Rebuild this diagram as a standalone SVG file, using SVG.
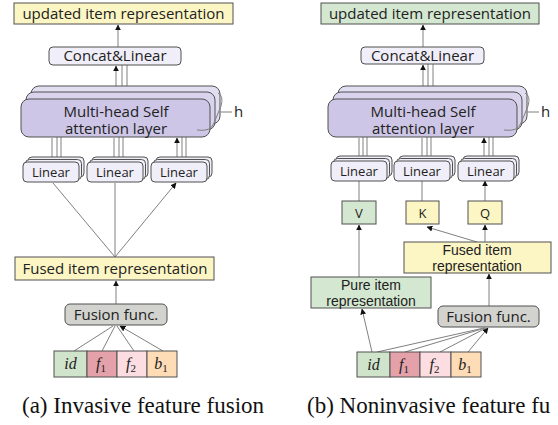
<svg xmlns="http://www.w3.org/2000/svg" xmlns:xlink="http://www.w3.org/1999/xlink" width="558" height="425" viewBox="0 0 558 425">
<style>
.lbl{font-family:"Open Sans","Noto Sans",sans-serif;font-size:15px;fill:#222;text-anchor:middle}
.sm{font-size:13px}
.two{font-family:"Liberation Sans",Arial,sans-serif;font-size:14px}
.math{font-family:"Liberation Serif",serif;font-style:italic;font-size:16px;fill:#222;text-anchor:middle}
.sub{font-size:11px;font-style:normal}
.cap{font-family:"Liberation Serif","Times New Roman",serif;font-size:23px;fill:#111}
.box{stroke:#505050;stroke-width:1}
.yel{fill:#fcf6c4}
.grn{fill:#d4e7d0}
.lav{fill:#f0eef8}
.gry{fill:#d2d2ce}
.c{stroke:#808080;stroke-width:1;fill:none}
.a{marker-end:url(#ah)}
</style>
<defs>
<marker id="ah" viewBox="0 0 10 10" refX="9" refY="5" markerWidth="6" markerHeight="6" orient="auto" markerUnits="userSpaceOnUse">
<path d="M0,0 L10,5 L0,10 z" fill="#111"/>
</marker>
<g id="linstack">
<rect x="5" y="-5" width="56" height="20" rx="4" class="box lav"/>
<rect x="2.5" y="-2.5" width="56" height="20" rx="4" class="box lav"/>
<rect x="0" y="0" width="56" height="20" rx="4" class="box lav"/>
<text x="28" y="15" class="lbl sm">Linear</text>
</g>
<g id="mhstack">
<rect x="10" y="-13" width="189" height="38" rx="8" class="box" fill="#e2def2"/>
<rect x="5" y="-7" width="189" height="38" rx="8" class="box" fill="#d9d3ee"/>
<rect x="0" y="0" width="189" height="38" rx="8" class="box" fill="#cdc6e6"/>
<text x="95" y="18" class="lbl">Multi-head Self</text>
<text x="95" y="35" class="lbl">attention layer</text>
<path d="M176,31 Q190,33 193,24 L200,7 Q203,-3 197,-6" class="c" stroke="#333"/>
<path d="M199,13 L211,13" class="c"/>
<text x="213" y="18" class="lbl" style="text-anchor:start">h</text>
</g>
</defs>

<g id="connectors">
<!-- left panel -->
<path d="M118,47 V25" class="c a"/>
<path d="M116,99 V66" class="c a"/>
<path d="M122,92 V65 M127,86 V65" class="c"/>
<path d="M52,162 V138 M114,162 V138 M177,162 V138" class="c a"/>
<path d="M57,160 V137 M61,157 V137 M119,160 V137 M123,157 V137 M182,160 V137 M186,157 V137" class="c"/>
<path d="M115,257 L53,183 M115,257 V183 M115,257 L176,183" class="c a"/>
<path d="M116,304 V281" class="c a"/>
<path d="M74,351 L113,326 M102,351 L115,326 M134,351 L117,326 M163,351 L120,326" class="c a"/>
<!-- right panel -->
<path d="M423,47 V25" class="c a"/>
<path d="M423,99 V65" class="c a"/>
<path d="M428,92 V64 M433,86 V64" class="c"/>
<path d="M359,161 V138 M422,161 V138 M484,161 V138" class="c a"/>
<path d="M363,159 V137 M367,156 V137 M427,159 V137 M431,156 V137 M489,159 V137 M493,156 V137" class="c"/>
<path d="M359,201 V181 M422,201 V181 M485,201 V181" class="c a"/>
<path d="M485,242 V225" class="c a"/>
<path d="M477,242 L427,227" class="c a"/>
<path d="M359,277 V225" class="c a"/>
<path d="M489,306 V274" class="c a"/>
<path d="M372,352 L362,309" class="c a"/>
<path d="M377,352 L484,328 M405,352 L485,328 M440,352 L486,328 M468,352 L488,328" class="c a"/>
</g>

<!-- left panel nodes -->
<g id="a-updated"><rect x="14" y="3" width="219" height="21" class="box yel"/><text x="123.5" y="19" class="lbl">updated item representation</text></g>
<g id="a-concat"><rect x="49" y="47" width="132" height="18" rx="4" class="box lav"/><text x="115" y="61" class="lbl">Concat&amp;Linear</text></g>
<g id="a-mhsa" transform="translate(21,99)"><use xlink:href="#mhstack"/></g>
<g id="a-lin1" transform="translate(23,162)"><use xlink:href="#linstack"/></g>
<g id="a-lin2" transform="translate(87,162)"><use xlink:href="#linstack"/></g>
<g id="a-lin3" transform="translate(151,162)"><use xlink:href="#linstack"/></g>
<g id="a-fused"><rect x="15" y="257" width="199" height="23" class="box yel"/><text x="115" y="274" class="lbl">Fused item representation</text></g>
<g id="a-fusion"><rect x="65" y="304" width="102" height="21" rx="5" class="box gry"/><text x="116" y="320" class="lbl">Fusion func.</text></g>
<g id="a-feat">
<rect x="54" y="351" width="33" height="26" class="box" fill="#cfe4ca"/>
<rect x="87" y="351" width="30" height="26" class="box" fill="#e4a1a9"/>
<rect x="117" y="351" width="30" height="26" class="box" fill="#fbdde2"/>
<rect x="147" y="351" width="30" height="26" class="box" fill="#fddcb6"/>
<text x="70.5" y="369" class="math">id</text>
<text x="101" y="369" class="math">f<tspan class="sub" dy="3">1</tspan></text>
<text x="131" y="369" class="math">f<tspan class="sub" dy="3">2</tspan></text>
<text x="161" y="369" class="math">b<tspan class="sub" dy="3">1</tspan></text>
</g>
<text x="22" y="413" class="cap">(a) Invasive feature fusion</text>

<!-- right panel nodes -->
<g id="b-updated"><rect x="321" y="3" width="218" height="21" class="box grn"/><text x="430" y="19" class="lbl">updated item representation</text></g>
<g id="b-concat"><rect x="361" y="47" width="123" height="17" rx="4" class="box lav"/><text x="422.5" y="60.5" class="lbl">Concat&amp;Linear</text></g>
<g id="b-mhsa" transform="translate(328,99)"><use xlink:href="#mhstack"/></g>
<g id="b-lin1" transform="translate(331,161)"><use xlink:href="#linstack"/></g>
<g id="b-lin2" transform="translate(394,161)"><use xlink:href="#linstack"/></g>
<g id="b-lin3" transform="translate(458,161)"><use xlink:href="#linstack"/></g>
<g id="b-v"><rect x="342" y="201" width="34" height="23" class="box grn"/><text x="359" y="218" class="lbl sm">V</text></g>
<g id="b-k"><rect x="406" y="201" width="33" height="23" class="box yel"/><text x="422.5" y="218" class="lbl sm">K</text></g>
<g id="b-q"><rect x="468" y="201" width="34" height="23" class="box yel"/><text x="485" y="218" class="lbl sm">Q</text></g>
<g id="b-fused"><rect x="404" y="242" width="147" height="31" class="box yel"/><text class="lbl two"><tspan x="477" y="255">Fused item</tspan><tspan x="477" y="270.7">representation</tspan></text></g>
<g id="b-pure"><rect x="311" y="277" width="120" height="31" class="box grn"/><text class="lbl two"><tspan x="371" y="290">Pure item</tspan><tspan x="371" y="305.5">representation</tspan></text></g>
<g id="b-fusion"><rect x="438" y="306" width="101" height="21" rx="5" class="box gry"/><text x="488.5" y="322" class="lbl">Fusion func.</text></g>
<g id="b-feat">
<rect x="357" y="352" width="33" height="25" class="box" fill="#cfe4ca"/>
<rect x="390" y="352" width="30" height="25" class="box" fill="#e4a1a9"/>
<rect x="420" y="352" width="31" height="25" class="box" fill="#fbdde2"/>
<rect x="451" y="352" width="30" height="25" class="box" fill="#fddcb6"/>
<text x="373.5" y="370" class="math">id</text>
<text x="404" y="370" class="math">f<tspan class="sub" dy="3">1</tspan></text>
<text x="434.5" y="370" class="math">f<tspan class="sub" dy="3">2</tspan></text>
<text x="465" y="370" class="math">b<tspan class="sub" dy="3">1</tspan></text>
</g>
<text x="307" y="413" class="cap">(b) Noninvasive feature fu</text>
</svg>
